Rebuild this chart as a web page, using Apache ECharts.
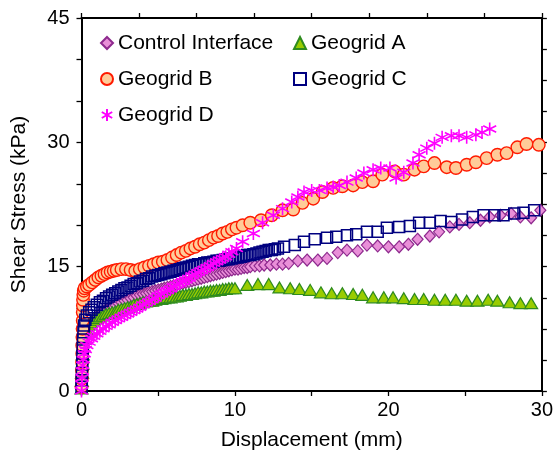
<!DOCTYPE html>
<html>
<head>
<meta charset="utf-8">
<script src="https://cdn.jsdelivr.net/npm/echarts@6/dist/echarts.min.js"></script>
<style>html,body{margin:0;padding:0;background:#fff}#c{width:556px;height:456px}</style>
</head>
<body>
<div id="c"></div>
<script>
var seriesNames = ['Control Interface', 'Geogrid A', 'Geogrid B', 'Geogrid C', 'Geogrid D'];
var xTicks = [0, 10, 20, 30];
var yTicks = [0, 15, 30, 45];

var controlData = [[0,0.3],[0.02,1],[0.03,2],[0.05,3],[0.07,4],[0.1,5],[0.14,6],[0.2,6.8],[0.3,7.4],[0.45,7.9],[0.6,8.3],[0.8,8.7],[1,9],[1.2,9.3],[1.4,9.6],[1.6,9.8],[1.8,10],[2,10.2],[2.2,10.4],[2.4,10.6],[2.6,10.7],[2.8,10.9],[3,11],[3.2,11.2],[3.4,11.3],[3.6,11.5],[3.8,11.6],[4,11.7],[4.2,11.8],[4.4,11.9],[4.6,12],[4.8,12.1],[5,12.2],[5.2,12.3],[5.4,12.4],[5.6,12.5],[5.8,12.6],[6,12.7],[6.2,12.8],[6.4,12.9],[6.6,13],[6.8,13.1],[7,13.2],[7.2,13.3],[7.4,13.4],[7.6,13.5],[7.8,13.6],[8,13.7],[8.2,13.8],[8.4,13.9],[8.6,14],[8.8,14.1],[9,14.2],[9.2,14.3],[9.4,14.4],[9.6,14.5],[9.8,14.6],[10,14.7],[10.2,14.7],[10.4,14.8],[10.6,14.9],[10.8,14.9],[11,15],[11.3,15.1],[11.6,15.1],[11.9,15.2],[12.3,15.2],[12.7,15.3],[13.1,15.3],[13.5,15.4],[14.1,15.7],[14.7,15.8],[15.4,15.8],[16,16],[16.7,16.7],[17.3,17],[18,16.9],[18.6,17.6],[19.3,17.5],[20,17.4],[20.7,17.4],[21.3,17.7],[21.9,18.3],[22.7,18.7],[23.3,19.2],[24,19.8],[24.6,20.1],[25.3,20.3],[26,20.6],[26.6,21],[27.3,21.2],[28,21.4],[28.6,21],[29.3,20.9],[29.9,21.8]];

var geogridAData = [[0,0.3],[0.02,1.2],[0.04,2.2],[0.06,3.3],[0.08,4.4],[0.11,5.4],[0.15,6.3],[0.22,7],[0.3,7.5],[0.45,8],[0.6,8.3],[0.8,8.6],[1,8.8],[1.2,9],[1.4,9.1],[1.6,9.3],[1.8,9.4],[2,9.5],[2.2,9.6],[2.4,9.8],[2.6,9.9],[2.8,10],[3,10.1],[3.2,10.2],[3.4,10.4],[3.6,10.5],[3.8,10.6],[4,10.7],[4.2,10.8],[4.4,10.9],[4.6,10.9],[4.8,11],[5,11.1],[5.2,11.1],[5.4,11.2],[5.6,11.3],[5.8,11.3],[6,11.4],[6.2,11.4],[6.4,11.5],[6.6,11.6],[6.8,11.6],[7,11.7],[7.2,11.7],[7.4,11.8],[7.6,11.9],[7.8,11.9],[8,12],[8.2,12],[8.4,12.1],[8.6,12.1],[8.8,12.2],[9,12.2],[9.2,12.3],[9.4,12.3],[9.6,12.4],[9.8,12.4],[10,12.4],[10.8,12.8],[11.5,12.9],[12.2,12.9],[12.9,12.5],[13.6,12.4],[14.2,12.3],[14.9,12.2],[15.6,11.9],[16.3,11.8],[17,11.8],[17.7,11.7],[18.3,11.6],[19,11.3],[19.7,11.3],[20.3,11.3],[21,11.2],[21.7,11.1],[22.3,11.1],[23,11],[23.7,11],[24.4,11],[25.1,10.9],[25.8,10.9],[26.5,11],[27.1,10.9],[27.9,10.7],[28.6,10.6],[29.3,10.6]];

var geogridBData = [[0,0.5],[0.02,1.5],[0.03,2.5],[0.04,3.5],[0.05,4.5],[0.05,5.5],[0.06,6.5],[0.07,7.5],[0.08,8.5],[0.08,9.5],[0.09,10.3],[0.1,11],[0.12,11.6],[0.15,12.1],[0.2,12.4],[0.35,12.6],[0.5,12.8],[0.7,13.1],[0.9,13.4],[1.1,13.7],[1.3,13.9],[1.5,14.1],[1.7,14.3],[1.9,14.4],[2.1,14.5],[2.3,14.6],[2.6,14.7],[2.9,14.7],[3.2,14.6],[3.5,14.5],[3.8,14.7],[4.1,14.9],[4.4,15.1],[4.7,15.3],[5,15.5],[5.3,15.6],[5.6,15.8],[5.9,16.1],[6.2,16.4],[6.5,16.7],[6.8,16.9],[7.1,17.2],[7.4,17.4],[7.7,17.7],[8,17.9],[8.3,18.2],[8.6,18.5],[8.9,18.7],[9.2,19],[9.5,19.2],[9.8,19.5],[10.1,19.7],[10.5,20],[11,20.3],[11.7,20.6],[12.4,21.2],[13.1,21.8],[13.8,21.9],[14.4,22.7],[15.1,23.2],[15.7,24],[16.4,24.5],[17,24.7],[17.7,24.8],[18.3,25.2],[19,25.3],[19.6,26.1],[20.4,26.5],[21,26.1],[21.7,26.7],[22.3,27.1],[23,27.5],[23.8,27],[24.4,26.9],[25.1,27.3],[25.7,27.6],[26.4,28.1],[27.1,28.5],[27.7,28.7],[28.4,29.4],[29,29.8],[29.8,29.7]];

var geogridCData = [[0,0.5],[0.02,1.3],[0.03,2.2],[0.05,3.2],[0.06,4.2],[0.08,5.2],[0.1,6.2],[0.13,7.1],[0.17,7.9],[0.25,8.6],[0.35,9.1],[0.5,9.5],[0.65,9.8],[0.8,10.1],[1,10.4],[1.2,10.7],[1.4,10.9],[1.6,11.2],[1.8,11.4],[2,11.6],[2.2,11.8],[2.4,12],[2.6,12.2],[2.8,12.4],[3,12.5],[3.2,12.7],[3.4,12.9],[3.6,13],[3.8,13.2],[4,13.3],[4.2,13.5],[4.4,13.6],[4.6,13.8],[4.8,13.9],[5,14],[5.2,14.1],[5.4,14.2],[5.6,14.3],[5.8,14.4],[6,14.5],[6.2,14.6],[6.4,14.7],[6.6,14.8],[6.8,14.9],[7,15],[7.2,15.1],[7.4,15.2],[7.6,15.3],[7.8,15.3],[8,15.4],[8.2,15.5],[8.4,15.5],[8.6,15.6],[8.8,15.7],[9,15.7],[9.2,15.8],[9.4,15.9],[9.6,15.9],[9.8,16],[10,16.1],[10.2,16.1],[10.4,16.2],[10.6,16.3],[10.8,16.4],[11,16.4],[11.2,16.5],[11.4,16.6],[11.6,16.7],[11.8,16.8],[12,16.9],[12.2,17],[12.4,17],[12.6,17.1],[12.8,17.2],[13.2,17.4],[13.9,17.6],[14.5,18],[15.2,18.3],[16,18.5],[16.6,18.6],[17.3,18.8],[17.9,18.9],[18.6,19.2],[19.3,19.2],[19.9,19.7],[20.7,19.8],[21.4,19.9],[22,20.3],[22.7,20.3],[23.4,20.5],[24.1,20.4],[24.8,20.7],[25.5,21],[26.2,21.2],[26.9,21.2],[27.5,21.2],[28.2,21.4],[28.8,21.5],[29.5,21.8]];

var geogridDData = [[0,0],[0.02,0.8],[0.04,1.6],[0.06,2.4],[0.08,3.1],[0.12,3.8],[0.18,4.5],[0.25,5],[0.35,5.5],[0.5,5.9],[0.65,6.3],[0.8,6.6],[1,6.9],[1.2,7.2],[1.4,7.5],[1.6,7.8],[1.8,8],[2,8.3],[2.2,8.5],[2.4,8.7],[2.6,8.9],[2.8,9.1],[3,9.3],[3.2,9.5],[3.4,9.7],[3.6,9.9],[3.8,10.1],[4,10.4],[4.2,10.6],[4.4,10.8],[4.6,11],[4.8,11.2],[5,11.5],[5.2,11.7],[5.4,11.9],[5.6,12.1],[5.8,12.3],[6,12.6],[6.2,12.8],[6.4,13],[6.6,13.2],[6.8,13.4],[7,13.6],[7.2,13.9],[7.4,14.1],[7.6,14.3],[7.8,14.5],[8,14.7],[8.2,14.9],[8.4,15.1],[8.6,15.4],[8.8,15.6],[9,15.8],[9.2,16],[9.4,16.2],[9.6,16.5],[9.8,16.8],[10.1,17.2],[10.5,18],[11.2,19],[11.8,20.3],[12.5,21.2],[13.1,22],[13.7,22.8],[14.1,23.4],[14.5,24],[15,24.2],[15.5,24.2],[16,24.5],[16.4,24.6],[16.8,24.8],[17.3,25.2],[17.9,25.7],[18.4,26.3],[19,26.7],[19.5,26.9],[20.1,26.9],[20.5,25.7],[21,26.4],[21.6,27.5],[22,28.5],[22.5,29.3],[23,29.9],[23.5,30.6],[24.1,30.8],[24.6,30.8],[25.1,30.6],[25.7,30.9],[26.1,31.2],[26.6,31.6]];

var FONT = '"Liberation Sans", Arial, Helvetica, sans-serif';
var asterisk = 'path://M5,0 L5,10 M0.67,2.5 L9.33,7.5 M0.67,7.5 L9.33,2.5';

var chart = echarts.init(document.getElementById('c'), null, {renderer: 'canvas'});

function axisCommon(extra) {
  var base = {
    type: 'value',
    min: 0,
    axisLine: {show: true, onZero: false, lineStyle: {color: '#000', width: 2}},
    axisTick: {show: true, inside: false, length: 5, lineStyle: {color: '#000', width: 1.3}},
    splitLine: {show: false},
    axisLabel: {color: '#000', fontSize: 20, fontFamily: FONT},
    nameTextStyle: {color: '#000', fontSize: 21, fontFamily: FONT}
  };
  for (var k in extra) base[k] = extra[k];
  return base;
}

var legendText = {color: '#000', fontSize: 21, fontFamily: FONT, lineHeight: 22};

var option = {
  animation: false,
  backgroundColor: '#fff',
  grid: {left: 81.5, right: 13, top: 18, bottom: 65, containLabel: false},
  legend: [
    {
      data: [seriesNames[0], seriesNames[2], seriesNames[4]],
      orient: 'vertical', left: 100, top: 32, padding: 0,
      itemWidth: 12, itemHeight: 12, itemGap: 14,
      textStyle: legendText
    },
    {
      data: [seriesNames[1], seriesNames[3]],
      orient: 'vertical', left: 293, top: 32, padding: 0,
      itemWidth: 12, itemHeight: 12, itemGap: 14,
      textStyle: legendText
    }
  ],
  xAxis: [
    axisCommon({
      position: 'bottom', max: 30, interval: 10,
      minorTick: {show: true, splitNumber: 2, length: 5, lineStyle: {color: '#000', width: 1.3}},
      axisLabel: {color: '#000', fontSize: 20, fontFamily: FONT, margin: 9},
      name: 'Displacement (mm)', nameLocation: 'middle', nameGap: 39
    }),
    axisCommon({
      position: 'top', max: 30, interval: 3.75,
      axisLabel: {show: false}
    })
  ],
  yAxis: [
    axisCommon({
      position: 'left', max: 45, interval: 15,
      minorTick: {show: true, splitNumber: 3, length: 5, lineStyle: {color: '#000', width: 1.3}},
      axisLabel: {color: '#000', fontSize: 20, fontFamily: FONT, margin: 12},
      name: 'Shear Stress (kPa)', nameLocation: 'middle', nameGap: 52
    }),
    axisCommon({
      position: 'right', max: 45, interval: 3.75,
      axisLabel: {show: false}
    })
  ],
  series: [
    {
      name: seriesNames[0], type: 'scatter', data: controlData,
      symbol: 'diamond', symbolSize: [11, 12],
      itemStyle: {color: '#E98FD8', borderColor: '#8E2A8E', borderWidth: 1.2, opacity: 1}
    },
    {
      name: seriesNames[1], type: 'scatter', data: geogridAData,
      symbol: 'triangle', symbolSize: [13, 11],
      itemStyle: {color: '#99CC00', borderColor: '#2E8B1E', borderWidth: 1.2, opacity: 1}
    },
    {
      name: seriesNames[2], type: 'scatter', data: geogridBData,
      symbol: 'circle', symbolSize: 12.5,
      itemStyle: {color: '#FFCC99', borderColor: '#FF1A00', borderWidth: 1.4, opacity: 1}
    },
    {
      name: seriesNames[3], type: 'scatter', data: geogridCData,
      symbol: 'rect', symbolSize: 11,
      itemStyle: {color: 'rgba(255,255,255,0)', borderColor: '#000080', borderWidth: 1.5, opacity: 1}
    },
    {
      name: seriesNames[4], type: 'scatter', data: geogridDData,
      symbol: asterisk, symbolSize: 13,
      itemStyle: {color: '#FF00FF', borderColor: '#FF00FF', borderWidth: 1.6, opacity: 1}
    }
  ]
};
chart.setOption(option);
</script>
</body>
</html>
